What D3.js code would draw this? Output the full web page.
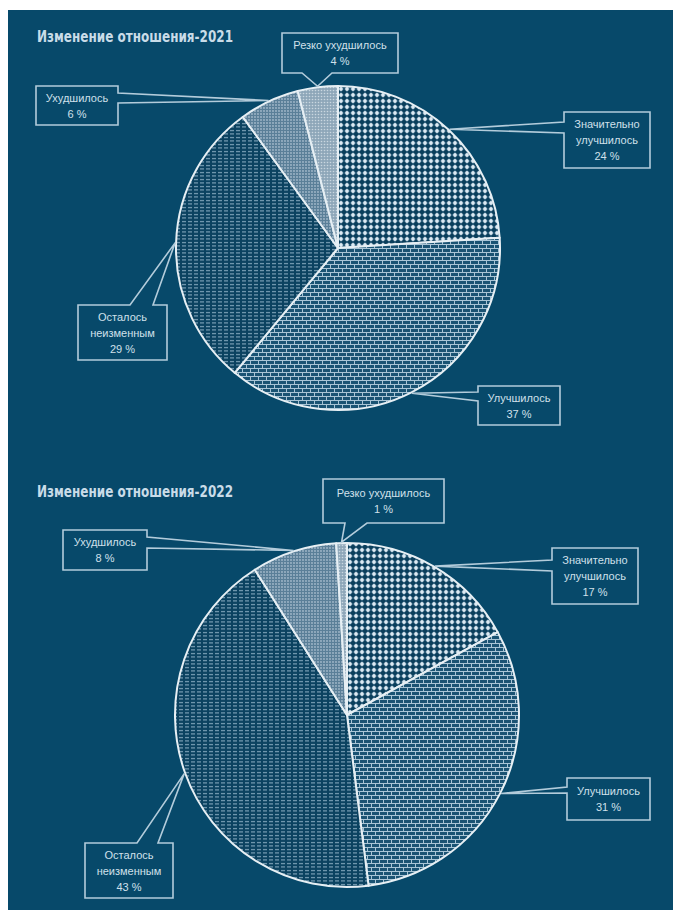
<!DOCTYPE html>
<html>
<head>
<meta charset="utf-8">
<script src="https://cdn.jsdelivr.net/npm/d3@7"></script>
<style>
  body { margin: 0; background: #fff; }
  svg { display: block; }
</style>
</head>
<body>
<div id="chart"></div>
<script>
// data
var categories = ["Значительно улучшилось", "Улучшилось", "Осталось неизменным", "Ухудшилось", "Резко ухудшилось"]
var labelLines = [["Значительно", "улучшилось"], ["Улучшилось"], ["Осталось", "неизменным"], ["Ухудшилось"], ["Резко ухудшилось"]]
var values2021 = [24, 37, 29, 6, 4]
var values2022 = [17, 31, 43, 8, 1]
var titles = ["Изменение отношения-2021", "Изменение отношения-2022"]

// layout of the two pies and their callout boxes [x, y, w, h, side, base1, base2]
var charts = [
  { values: values2021, title: titles[0], cx: 338, cy: 248, r: 162, titleY: 42,
    boxes: [
      [564, 112, 86, 56, "left", 122, 133],
      [478, 386, 82, 39, "left", 392, 401],
      [78, 305, 89, 55, "top", 130, 153],
      [36, 86, 82, 39, "right", 93, 103],
      [282, 33, 116, 40, "bottom", 302, 332]
    ] },
  { values: values2022, title: titles[1], cx: 347, cy: 715, r: 172, titleY: 497,
    boxes: [
      [552, 548, 86, 56, "left", 560, 571],
      [567, 778, 83, 42, "left", 787, 793],
      [85, 843, 88, 55, "top", 137, 158],
      [63, 530, 84, 40, "right", 537, 548],
      [323, 479, 121, 44, "bottom", 345, 367]
    ] }
]

var W = 673, H = 910
var bg = "#07496a"
var lineCol = "#e6eff4"
var boxCol = "#b3ccdb"
var textCol = "#d0e0ea"

var svg = d3.select("#chart").append("svg")
    .attr("width", W)
    .attr("height", H)

svg.append("rect")
    .attr("x", 8).attr("y", 10)
    .attr("width", W - 8).attr("height", H - 10)
    .attr("fill", bg)

// fill patterns
var defs = svg.append("defs")

var pDots = defs.append("pattern").attr("id", "p0")
    .attr("width", 6).attr("height", 6).attr("patternUnits", "userSpaceOnUse")
pDots.append("rect").attr("width", 6).attr("height", 6).attr("fill", "#0a3f5c")
pDots.append("path").attr("d", "M0,3H6M3,0V6").attr("stroke", "#5d88a3").attr("stroke-width", 0.8)
pDots.append("circle").attr("cx", 3).attr("cy", 3).attr("r", 1.9).attr("fill", "#dceaf3")

var pBrick = defs.append("pattern").attr("id", "p1")
    .attr("width", 8).attr("height", 8).attr("patternUnits", "userSpaceOnUse")
pBrick.append("rect").attr("width", 8).attr("height", 8).attr("fill", "#1a5373")
pBrick.append("path").attr("d", "M0,0.5H8M0,4.5H8M0.5,0V4M4.5,4V8")
    .attr("stroke", "#a9c5d6").attr("stroke-width", 1)

var pDash = defs.append("pattern").attr("id", "p2")
    .attr("width", 6).attr("height", 3.5).attr("patternUnits", "userSpaceOnUse")
pDash.append("rect").attr("width", 6).attr("height", 3.5).attr("fill", "#0b4260")
pDash.append("path").attr("d", "M0,1.5H4").attr("stroke", "#94b5ca").attr("stroke-width", 1)

var pFine = defs.append("pattern").attr("id", "p3")
    .attr("width", 3).attr("height", 3).attr("patternUnits", "userSpaceOnUse")
pFine.append("rect").attr("width", 3).attr("height", 3).attr("fill", "#5a7f98")
pFine.append("circle").attr("cx", 1).attr("cy", 1).attr("r", 0.9).attr("fill", "#a3bacb")

var pLight = defs.append("pattern").attr("id", "p4")
    .attr("width", 3).attr("height", 3).attr("patternUnits", "userSpaceOnUse")
pLight.append("rect").attr("width", 3).attr("height", 3).attr("fill", "#8ea7b9")
pLight.append("circle").attr("cx", 1.5).attr("cy", 1.5).attr("r", 0.8).attr("fill", "#c9d7e0")

var pie = d3.pie().sort(null).value(function (d) { return d })

charts.forEach(function (c) {
    var g = svg.append("g")

    g.append("text")
        .attr("x", 37).attr("y", c.titleY)
        .attr("textLength", 196).attr("lengthAdjust", "spacingAndGlyphs")
        .attr("font-family", "DejaVu Sans Condensed")
        .attr("font-weight", "bold")
        .attr("font-size", 16.5)
        .attr("fill", "#c9dce8")
        .text(c.title)

    var arc = d3.arc().innerRadius(0).outerRadius(c.r)
    var tipArc = d3.arc().innerRadius(c.r + 1).outerRadius(c.r + 1)
    var arcs = pie(c.values)

    var pg = g.append("g").attr("transform", "translate(" + c.cx + "," + c.cy + ")")
    pg.selectAll("path")
        .data(arcs)
        .enter()
        .append("path")
            .attr("d", arc)
            .attr("fill", function (d, i) { return "url(#p" + i + ")" })
            .attr("stroke", lineCol)
            .attr("stroke-width", 2)
            .attr("stroke-linejoin", "round")
            .append("title")
                .text(function (d, i) { return categories[i] + ": " + d.data + " %" })

    // callouts
    arcs.forEach(function (d, i) {
        var b = c.boxes[i]
        var x = b[0], y = b[1], w = b[2], h = b[3], side = b[4], b1 = b[5], b2 = b[6]
        var t = tipArc.centroid(d)
        var tx = c.cx + t[0], ty = c.cy + t[1]
        var p = d3.path()
        p.moveTo(x, y)
        if (side === "top") { p.lineTo(b1, y); p.lineTo(tx, ty); p.lineTo(b2, y) }
        p.lineTo(x + w, y)
        if (side === "right") { p.lineTo(x + w, b1); p.lineTo(tx, ty); p.lineTo(x + w, b2) }
        p.lineTo(x + w, y + h)
        if (side === "bottom") { p.lineTo(b2, y + h); p.lineTo(tx, ty); p.lineTo(b1, y + h) }
        p.lineTo(x, y + h)
        if (side === "left") { p.lineTo(x, b2); p.lineTo(tx, ty); p.lineTo(x, b1) }
        p.closePath()

        g.append("path")
            .attr("d", p.toString())
            .attr("fill", bg)
            .attr("stroke", boxCol)
            .attr("stroke-width", 1.6)
            .attr("stroke-linejoin", "miter")

        var lines = labelLines[i].concat([d.data + " %"])
        var n = lines.length
        g.selectAll(null)
            .data(lines)
            .enter()
            .append("text")
                .attr("x", x + w / 2)
                .attr("y", function (s, k) { return y + h / 2 + (k - (n - 1) / 2) * 16 + 4 })
                .attr("text-anchor", "middle")
                .attr("font-family", "Liberation Sans")
                .attr("font-size", 11)
                .attr("fill", textCol)
                .text(function (s) { return s })
    })
})
</script>
</body>
</html>
